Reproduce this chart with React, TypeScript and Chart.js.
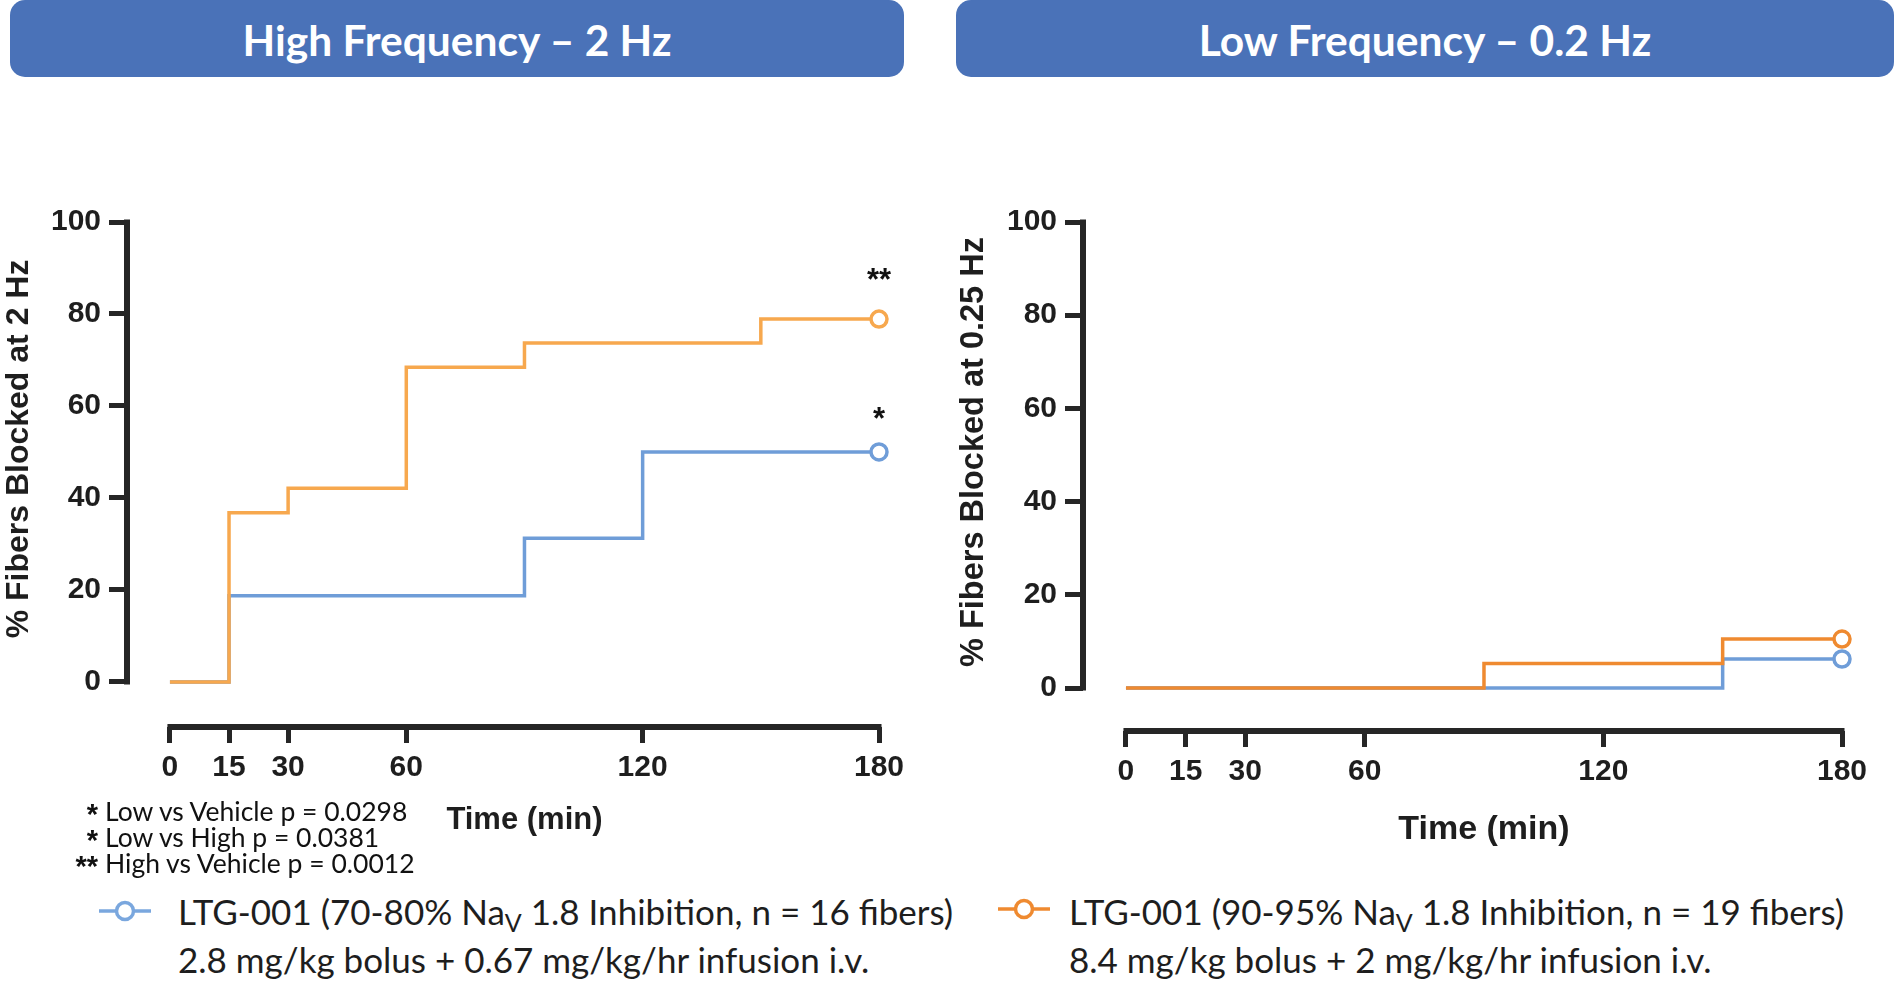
import React, { useEffect, useRef } from 'react';
import { Chart, registerables } from 'chart.js';

Chart.register(...registerables);

// ---------- data ----------
const X_TICKS = [0, 15, 30, 60, 120, 180];
const Y_TICKS = [0, 20, 40, 60, 80, 100];

// High frequency (2 Hz)
const HF_BLUE_T = [0, 15, 90, 120, 180];
const HF_BLUE_V = [0, 18.75, 31.25, 50, 50];
const HF_ORANGE_T = [0, 15, 30, 60, 90, 150, 180];
const HF_ORANGE_V = [0, 36.8, 42.1, 68.4, 73.7, 78.9, 78.9];

// Low frequency (0.2 Hz)
const LF_BLUE_T = [0, 150, 180];
const LF_BLUE_V = [0, 6.25, 6.25];
const LF_ORANGE_T = [0, 90, 150, 180];
const LF_ORANGE_V = [0, 5.26, 10.53, 10.53];

const SERIES_LABELS = [
  'LTG-001 (70-80% NaV 1.8 Inhibition, n = 16 fibers)',
  'LTG-001 (90-95% NaV 1.8 Inhibition, n = 19 fibers)',
];

// ---------- styles ----------
const AXIS_COLOR = '#262626';
const TEXT_COLOR = '#1e1e1e';
const ARIAL = "'Liberation Sans', Arial, sans-serif";
const CALIBRI = "Lato, 'Noto Sans', sans-serif";
const HEADER_BLUE = '#4A72B8';

type Star = { idx: number; text: string; dy: number };
type Panel = {
  blueT: number[]; blueV: number[]; orangeT: number[]; orangeV: number[];
  blue: string; orange: string;
  xMin: number; yMin: number;
  left: number; top: number; width: number; height: number;
  padTop: number; padRight: number; yAxisW: number; xAxisH: number;
  yTitle: string; yTitleX: number; yTitleSize: number; xTitleDy: number; xTitleSize: number;
  stars: Star[];
};

const decorPlugin = {
  id: 'decor',
  beforeDatasetsDraw(chart: any) {
    const { ctx, chartArea, scales } = chart;
    const xs = scales.x, ys = scales.y;
    const yTop = ys.getPixelForValue(Y_TICKS[Y_TICKS.length - 1]);
    const yBot = ys.getPixelForValue(Y_TICKS[0]);
    const xL = xs.getPixelForValue(X_TICKS[0]);
    const xR = xs.getPixelForValue(X_TICKS[X_TICKS.length - 1]);
    ctx.save();
    ctx.strokeStyle = AXIS_COLOR;
    ctx.lineWidth = 6;
    ctx.lineCap = 'butt';
    ctx.beginPath();
    ctx.moveTo(chartArea.left, yTop - 2.5);
    ctx.lineTo(chartArea.left, yBot + 2.5);
    ctx.stroke();
    ctx.beginPath();
    ctx.moveTo(xL - 2.5, chartArea.bottom);
    ctx.lineTo(xR + 2.5, chartArea.bottom);
    ctx.stroke();
    ctx.restore();
  },
  afterDraw(chart: any, _a: any, o: any) {
    const { ctx, chartArea, scales } = chart;
    const xs = scales.x, ys = scales.y;
    ctx.save();
    ctx.fillStyle = TEXT_COLOR;
    const yMid = (ys.getPixelForValue(0) + ys.getPixelForValue(100)) / 2 - 3;
    ctx.font = `bold ${o.yTitleSize}px ${ARIAL}`;
    ctx.textAlign = 'center';
    ctx.textBaseline = 'middle';
    ctx.save();
    ctx.translate(o.yTitleX, yMid);
    ctx.rotate(-Math.PI / 2);
    ctx.fillText(o.yTitle, 0, 0);
    ctx.restore();
    ctx.font = `bold ${o.xTitleSize}px ${ARIAL}`;
    ctx.fillText('Time (min)', xs.getPixelForValue(90), chartArea.bottom + o.xTitleDy);
    ctx.font = `bold 31px ${ARIAL}`;
    ctx.fillStyle = '#111';
    ctx.textBaseline = 'alphabetic';
    (o.stars || []).forEach((s: Star) => {
      const meta = chart.getDatasetMeta(s.idx);
      const pt = meta.data[meta.data.length - 1];
      ctx.fillText(s.text, pt.x, pt.y + s.dy);
    });
    ctx.restore();
  },
};

function toXY(t: number[], v: number[]) {
  return t.map((x, i) => ({ x, y: v[i] }));
}

function lastOnly(r: number) {
  return (c: any) => (c.dataIndex === c.dataset.data.length - 1 ? r : 0);
}

function StepChart({ p }: { p: Panel }) {
  const ref = useRef<HTMLCanvasElement | null>(null);
  useEffect(() => {
    if (!ref.current) return;
    const mk = (color: string, t: number[], v: number[], label: string, order: number) => ({
      label,
      data: toXY(t, v),
      borderColor: color,
      borderWidth: 3.5,
      stepped: true,
      fill: false,
      clip: false as any,
      order,
      pointRadius: lastOnly(8),
      pointHoverRadius: lastOnly(8),
      pointBorderWidth: 3.5,
      pointBorderColor: color,
      pointBackgroundColor: '#ffffff',
    });
    const tickFont = { family: ARIAL, size: 30, weight: 'bold' as const };
    const chart = new Chart(ref.current, {
      type: 'line',
      data: {
        datasets: [
          mk(p.orange, p.orangeT, p.orangeV, SERIES_LABELS[1], 0),
          mk(p.blue, p.blueT, p.blueV, SERIES_LABELS[0], 1),
        ],
      },
      options: {
        animation: false,
        responsive: false,
        events: [],
        layout: { padding: { left: 0, top: p.padTop, right: p.padRight, bottom: 0 } },
        scales: {
          x: {
            type: 'linear',
            min: p.xMin,
            max: 180,
            afterFit: (s: any) => { s.height = p.xAxisH; },
            afterBuildTicks: (s: any) => { s.ticks = X_TICKS.map((v) => ({ value: v })); },
            grid: { drawOnChartArea: false, drawTicks: true, tickLength: 16, tickWidth: 5, tickColor: AXIS_COLOR },
            border: { display: false },
            ticks: { font: tickFont, color: TEXT_COLOR, padding: 7, maxRotation: 0, autoSkip: false },
          },
          y: {
            type: 'linear',
            min: p.yMin,
            max: 100,
            afterFit: (s: any) => { s.width = p.yAxisW; },
            afterBuildTicks: (s: any) => { s.ticks = Y_TICKS.map((v) => ({ value: v })); },
            grid: { drawOnChartArea: false, drawTicks: true, tickLength: 18, tickWidth: 5, tickColor: AXIS_COLOR },
            border: { display: false },
            ticks: { font: tickFont, color: TEXT_COLOR, padding: 8, autoSkip: false },
          },
        },
        plugins: {
          legend: { display: false },
          tooltip: { enabled: false },
          decor: {
            yTitle: p.yTitle, yTitleX: p.yTitleX, yTitleSize: p.yTitleSize,
            xTitleDy: p.xTitleDy, xTitleSize: p.xTitleSize, stars: p.stars,
          },
        } as any,
      },
      plugins: [decorPlugin as any],
    });
    return () => chart.destroy();
  }, [p]);
  return (
    <canvas
      ref={ref}
      width={p.width}
      height={p.height}
      style={{ position: 'absolute', left: p.left, top: p.top, width: p.width, height: p.height }}
    />
  );
}

const LEFT: Panel = {
  blueT: HF_BLUE_T, blueV: HF_BLUE_V, orangeT: HF_ORANGE_T, orangeV: HF_ORANGE_V,
  blue: '#6F9DD8', orange: '#F7A84E',
  xMin: -10.9, yMin: -9.8,
  left: 0, top: 150, width: 940, height: 700,
  padTop: 72, padRight: 61, yAxisW: 127, xAxisH: 123,
  yTitle: '% Fibers Blocked at 2 Hz', yTitleX: 19, yTitleSize: 32, xTitleDy: 93, xTitleSize: 31,
  stars: [
    { idx: 0, text: '**', dy: -29 },
    { idx: 1, text: '*', dy: -23 },
  ],
};

const RIGHT: Panel = {
  blueT: LF_BLUE_T, blueV: LF_BLUE_V, orangeT: LF_ORANGE_T, orangeV: LF_ORANGE_V,
  blue: '#6F9DD8', orange: '#EF8A30',
  xMin: -10.8, yMin: -9.2,
  left: 940, top: 150, width: 956, height: 700,
  padTop: 72, padRight: 54, yAxisW: 143, xAxisH: 119,
  yTitle: '% Fibers Blocked at 0.25 Hz', yTitleX: 34, yTitleSize: 32.5, xTitleDy: 99, xTitleSize: 34,
  stars: [],
};

function Header({ left, width, text }: { left: number; width: number; text: string }) {
  return (
    <div
      style={{
        position: 'absolute', left, top: 0, width, height: 77, background: HEADER_BLUE,
        borderRadius: 15, color: '#fff', display: 'flex', alignItems: 'center', justifyContent: 'center',
        fontFamily: CALIBRI, fontWeight: 700, fontSize: 42.5, paddingTop: 1, boxSizing: 'border-box',
      }}
    >
      {text}
    </div>
  );
}

function LegendIcon({ left, top, color }: { left: number; top: number; color: string }) {
  return (
    <svg width={56} height={26} style={{ position: 'absolute', left, top }}>
      <line x1={2} y1={13} x2={54} y2={13} stroke={color} strokeWidth={3.5} />
      <circle cx={28} cy={13} r={8.5} stroke={color} strokeWidth={3.5} fill="#fff" />
    </svg>
  );
}

function LegendText({ left, pct, n, dose }: { left: number; pct: string; n: number; dose: string }) {
  const line = { height: 48, lineHeight: '48px' };
  return (
    <div
      style={{
        position: 'absolute', left, top: 887, fontFamily: CALIBRI, fontSize: 35,
        color: TEXT_COLOR, whiteSpace: 'nowrap',
      }}
    >
      <div style={line}>
        LTG-001 ({pct} Na<sub style={{ fontSize: 25, lineHeight: 0, verticalAlign: -7 }}>V</sub> 1.8 Inhibition, n = {n} fibers)
      </div>
      <div style={line}>{dose}</div>
    </div>
  );
}

const STATS = [
  ['*', 'Low vs Vehicle p = 0.0298'],
  ['*', 'Low vs High p = 0.0381'],
  ['**', 'High vs Vehicle p = 0.0012'],
];

export default function App() {
  useEffect(() => {
    document.body.style.margin = '0';
  }, []);
  return (
    <div style={{ position: 'absolute', left: 0, top: 0, width: 1896, height: 983, background: '#fff', overflow: 'hidden' }}>
      <Header left={10} width={894} text="High Frequency – 2 Hz" />
      <Header left={956} width={938} text="Low Frequency – 0.2 Hz" />
      <StepChart p={LEFT} />
      <StepChart p={RIGHT} />
      <div style={{ position: 'absolute', left: 40, top: 798, fontFamily: CALIBRI, fontSize: 26.5, lineHeight: '26px', color: '#111' }}>
        {STATS.map(([s, t], i) => (
          <div key={i} style={{ display: 'flex', whiteSpace: 'nowrap', height: 26 }}>
            <span style={{ width: 65, textAlign: 'right', paddingRight: 7, boxSizing: 'border-box', fontFamily: ARIAL, fontSize: 29, fontWeight: 700, position: 'relative', top: 3 }}>{s}</span>
            <span>{t}</span>
          </div>
        ))}
      </div>
      <LegendIcon left={97} top={898} color="#7AA7DE" />
      <LegendText left={178} pct="70-80%" n={16} dose="2.8 mg/kg bolus + 0.67 mg/kg/hr infusion i.v." />
      <LegendIcon left={996} top={896} color="#EF8A30" />
      <LegendText left={1069} pct="90-95%" n={19} dose="8.4 mg/kg bolus + 2 mg/kg/hr infusion i.v." />
    </div>
  );
}
